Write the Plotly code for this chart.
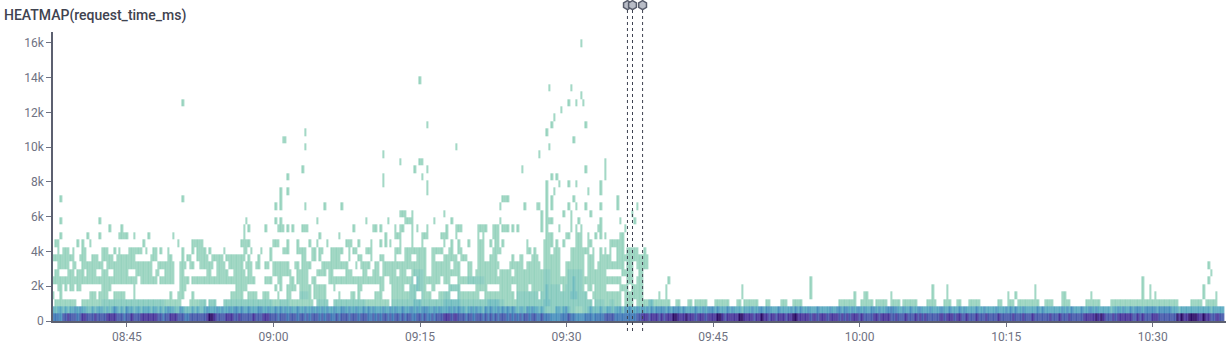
import datetime as dt
import plotly.graph_objects as go

TITLE = "HEATMAP(request_time_ms)"
START = dt.datetime(2024, 1, 1, 8, 37, 30)
BUCKET_SECONDS = 15
BUCKET_MS = 426
N_COLS = 480
N_ROWS = 39
MARKER_TIMES = ["09:36:14", "09:36:45", "09:37:47"]
Y_TICKS = [0, 2000, 4000, 6000, 8000, 10000, 12000, 14000, 16000]

# per-time-bucket colour level of the two lowest duration buckets (1..9)
band_0 = (
    "6665778777" "6788777877" "7788887776" "7787778888" "8887767788" "8777667777"
    "7778998777" "7888778777" "7787778887" "7767776777" "6776767776" "7677667677"
    "7677767776" "6767677676" "7767677667" "7676676777" "8887887776" "7767776767"
    "6767776767" "6767767766" "7666555566" "6766555566" "6566667777" "6666666667"
    "7888788878" "7888998889" "8887888788" "8899878888" "8998888788" "9887887888"
    "7889988888" "7887888788" "8878787888" "7877778878" "8887787778" "7778787877"
    "7778878887" "8877877787" "7787777877" "7778777877" "7877777787" "7787778777"
    "7788888989" "8777878888" "8877878777" "8887777777" "9898899998" "8988778877"
)
band_1 = (
    "4344343445" "4544334344" "4343454343" "5443443444" "3443434544" "3354333434"
    "3345444545" "4454554544" "5444554454" "4545454544" "5445445454" "5454454455"
    "4544544545" "4544454454" "5445445545" "4555445454" "4454545443" "4545443545"
    "4454545454" "3443545443" "4322224434" "5322111223" "4333433443" "4453545445"
    "4545454555" "5454555454" "4445445455" "5454445454" "4434445445" "5455444544"
    "4454545445" "4445444454" "4554554545" "5454455454" "4556554454" "4544554445"
    "4445544544" "4545444454" "4544445444" "5454544544" "4445454444" "4445454544"
    "4544554544" "4443445454" "4545554555" "5545555544" "4344444444" "4444344444"
)

# occupied time buckets per duration bucket ("a-b" = run)
r02 = ("1-9 12-33 34-38 39-42 43-52 56-62 64-65 66 70-82 83-89 90-106 108-112 115-127 128-137 139-184 "
       "185-220 222-227 228-229 230-232 234-237 239-252 255-256 260-261 263-264 265-267 271-272 273-274 275-276 "
       "280-281 283-288 292-293 298-300 303-306 322-328 331-335 337-341 343-346 348-349 350-351 352-353 358-361 "
       "365-367 370-371 375-376 377-379 387-388 391-393 395-399 400-403 406-407 408-409 413-416 423-424 425-426 "
       "427-428 433-434 435-440 441-448 449-450 451-452 453-456 457-460 466-470 472-474 475-476")
r03 = ("0 3 15-17 19-22 25-29 33 48 51-53 57 73-77 80-83 86-88 92 96-97 101-105 107-111 117 122-123 125 132-134 "
       "139-148 151-154 158-162 166-174 177-188 190-198 200-218 221-227 228-230 231-232 234-241 248 251 282 310 "
       "328 332-333 343 360 366 391 394 402 413-414 425 446 449 451 471 476")
r04 = ("2-3 5 7-8 10-11 20-23 33 52-54 75-79 91 93 96-99 101-105 107-111 115 125-126 134-135 139-143 146-152 "
       "155-156 162-166 173-177 183-184 185-187 190-192 193-194 196-199 200-207 209-217 219-220 222-226 232-235 "
       "237-241 251 282 310 360 366 402 446 449 471")
r05 = ("0-2 3-17 18-34 36-42 44-49 52-55 57-59 60-72 73-82 87-89 92-93 97-98 100-104 106-107 113-129 130-135 "
       "138-147 149-154 155-158 160-162 166-232 235-237 239-241 252 310 446 473")
r06 = ("1-2 6-8 10-12 14-17 20-22 25-30 34-40 42-43 46-49 52-53 63-64 67-71 74-78 80-81 90-94 95-97 100-104 "
       "108-111 113-114 120-122 127-128 131-133 135-140 142-144 147-152 155-162 163-166 170-171 173-181 183-187 "
       "189-207 210-217 219-226 233-237 240-241 474")
r07 = ("2-6 8-9 12-17 18-20 22-33 34-40 43-49 52-54 56-57 60-65 67-70 72-77 79-81 83-84 87-88 90-96 99-100 "
       "102-105 110-118 119-120 124 126-129 132-133 135-146 147-152 155-162 164-166 170-171 174-182 187-190 "
       "191-192 194-199 201-207 210-217 219-221 223-227 228-233 235-237 239-243 473")
r08 = ("0-8 11-13 16-18 20-24 26-33 40-42 47-48 53 55-56 59-63 65-69 71-78 80 84 89 102-103 106-107 109 114-117 "
       "121 125-126 130 134-135 140 144-146 149-152 155-156 160-165 167-169 174-176 179-181 188 191-192 196-198 "
       "201-207 212-217 219-221 224-227 228 231-234 235-243")
r09 = ("2 4-6 8 12-13 20-22 25 27 31-36 38 41-42 44 47 53 57 59-62 64 70 78-79 81 85 89 94-96 100-103 106-107 "
       "109-110 114-118 121 123-124 128-130 140-142 144-146 147-152 155-159 162-163 166-167 174-176 180-183 "
       "194-195 197 201-203 205-207 212-219 221 224 226 228 231-233 235-239 242")
r10 = ("1-2 10 12 15 37 51 57-61 77-80 90-92 96 100 105 108 112 120-122 125 130 134 136 138 142 147 151 160 163 "
       "166 170 174-176 179 181-182 184 194 201-204 206 209 214-216 219-220 228-233")
r11 = ("3 14 19 27-30 33 39 49 78 109 117 136 140-142 147 151-153 159-161 165 174 176 180-182 202-204 210-211 "
       "214-216 219 222 224 226 232-233")
r12 = ("23 28 78 80 87 92-94 96 98 102-104 123 131-132 134 140 142-143 147 149 153 161 165-167 174-177 180-182 "
       "184-186 188 190 200 202 207 212 214 216 223-224 234")
r13 = ("3 19 79 91 93 108 128 137 144-146 147 156 163 183 200 202-204 212 215 224 232 238")
r14 = "142-144 147 160 200 202 209 212 220 237"
r15 = "91 93 103 111 118 183 193 198-199 202 204 211 214 218 224 231 239"
r16 = "3 53 93 184-186 202 204 213 231"
r17 = "93 96 153 202 205 219 224"
r18 = "135 153 202 207 211 214 224"
r19 = "96 135 151 204 206 226"
r20 = "102 148 153 192 218 226"
r21 = "142 150 151 226"
r22 = "135 199"
r23 = "103 165 203"
r24 = "94 95 213"
r25 = "103 202"
r26 = "153 204 218"
r27 = "205"
r28 = "208"
r29 = "53 211 214 217"
r30 = "216"
r31 = "203 212"
r32 = "150"
r37 = "216"

sparse_rows = {2: r02, 3: r03, 4: r04, 5: r05, 6: r06, 7: r07, 8: r08, 9: r09, 10: r10, 11: r11,
               12: r12, 13: r13, 14: r14, 15: r15, 16: r16, 17: r17, 18: r18, 19: r19, 20: r20,
               21: r21, 22: r22, 23: r23, 24: r24, 25: r25, 26: r26, 27: r27, 28: r28, 29: r29,
               30: r30, 31: r31, 32: r32, 37: r37}

# denser cells (level > 1) among the upper buckets
level_2 = {2: "20-45 60-89 93-96 108-112 115-127 139-147 151-184 190-225 228-229",
           3: "100-104 146-151 160-166 190-200 201-218",
           4: "146-151 162-166 201-207 210-216",
           5: "147-151 170-176 201-203 211-216",
           6: "148-151 201-203 211-216"}
level_3 = {2: "148-150 160-166 178-182 201-203 244-245",
           3: "149 202 212-214",
           4: "149 202 213",
           5: "149 213"}

colorscale_levels = ["#97d3be", "#86cabd", "#6fbcbe", "#58a8c0", "#4890bd",
                     "#3f78b6", "#4458aa", "#46349a", "#2a0a66"]


def expand(text):
    out = []
    for part in text.split():
        if "-" in part:
            a, b = part.split("-")
            out.extend(range(int(a), int(b) + 1))
        else:
            out.append(int(part))
    return out


z = [[None] * N_COLS for _ in range(N_ROWS)]
for c in range(N_COLS):
    z[0][c] = int(band_0[c])
    z[1][c] = int(band_1[c])
for row, text in sparse_rows.items():
    for c in expand(text):
        z[row][c] = 1
for level, table in ((2, level_2), (3, level_3)):
    for row, text in table.items():
        for c in expand(text):
            if z[row][c] is not None:
                z[row][c] = level

x = [START + dt.timedelta(seconds=BUCKET_SECONDS * c) for c in range(N_COLS)]
y = [(r + 0.5) * BUCKET_MS for r in range(N_ROWS)]
scale = [[i / 8, col] for i, col in enumerate(colorscale_levels)]

fig = go.Figure()
fig.add_trace(go.Heatmap(x=x, y=y, z=z, zmin=1, zmax=9, colorscale=scale, showscale=False,
                         hoverongaps=False, xgap=0.2))

marker_x = [f"2024-01-01 {t}" for t in MARKER_TIMES]
fig.add_trace(go.Scatter(x=marker_x, y=[0.84] * 3, yaxis="y2", mode="markers", cliponaxis=False,
                         marker=dict(symbol="hexagon", size=9, color="#b9bdc7",
                                     line=dict(color="#585d6c", width=1.5)),
                         showlegend=False, hoverinfo="skip"))
for t in marker_x:
    fig.add_shape(type="line", xref="x", yref="paper", x0=t, x1=t, y0=-10 / 321, y1=1 - 8 / 321,
                  line=dict(color="#3d4150", width=1, dash="3px,3px"))

fig.update_layout(
    width=1231, height=352, autosize=False,
    margin=dict(l=53, r=5, t=0, b=31),
    paper_bgcolor="white", plot_bgcolor="white",
    font=dict(family="Roboto", size=12, color="#6f7282"),
    showlegend=False,
    title=dict(text=TITLE, x=4 / 1231, xref="container", xanchor="left",
               y=1 - 15 / 352, yref="container", yanchor="middle",
               font=dict(family="Roboto", size=14, color="#3f4350", weight=500)),
)
fig.update_xaxes(type="date", range=["2024-01-01 08:37:26", "2024-01-01 10:37:30"],
                 tick0="2024-01-01 08:45:00", dtick=900000, tickformat="%H:%M",
                 ticks="outside", ticklen=4, tickcolor="#6f7282", tickwidth=1,
                 showgrid=False, zeroline=False, showline=True, linecolor="#5c6070", linewidth=1.5,
                 tickfont=dict(size=12, color="#6f7282"))
fig.update_yaxes(domain=[0, 289 / 321], range=[0, 16630], tickvals=Y_TICKS, tickformat="~s",
                 ticks="outside", ticklen=5, tickcolor="#6f7282", tickwidth=1,
                 showgrid=False, zeroline=False, showline=True, linecolor="#5c6070", linewidth=1.5,
                 tickfont=dict(size=12, color="#6f7282"))
fig.update_layout(yaxis2=dict(domain=[289 / 321, 1], range=[0, 1], visible=False, anchor="x",
                              showline=False, ticks=""))

fig.write_html("out.html", config={"displayModeBar": False},
               post_script="document.body.style.margin='0';")
